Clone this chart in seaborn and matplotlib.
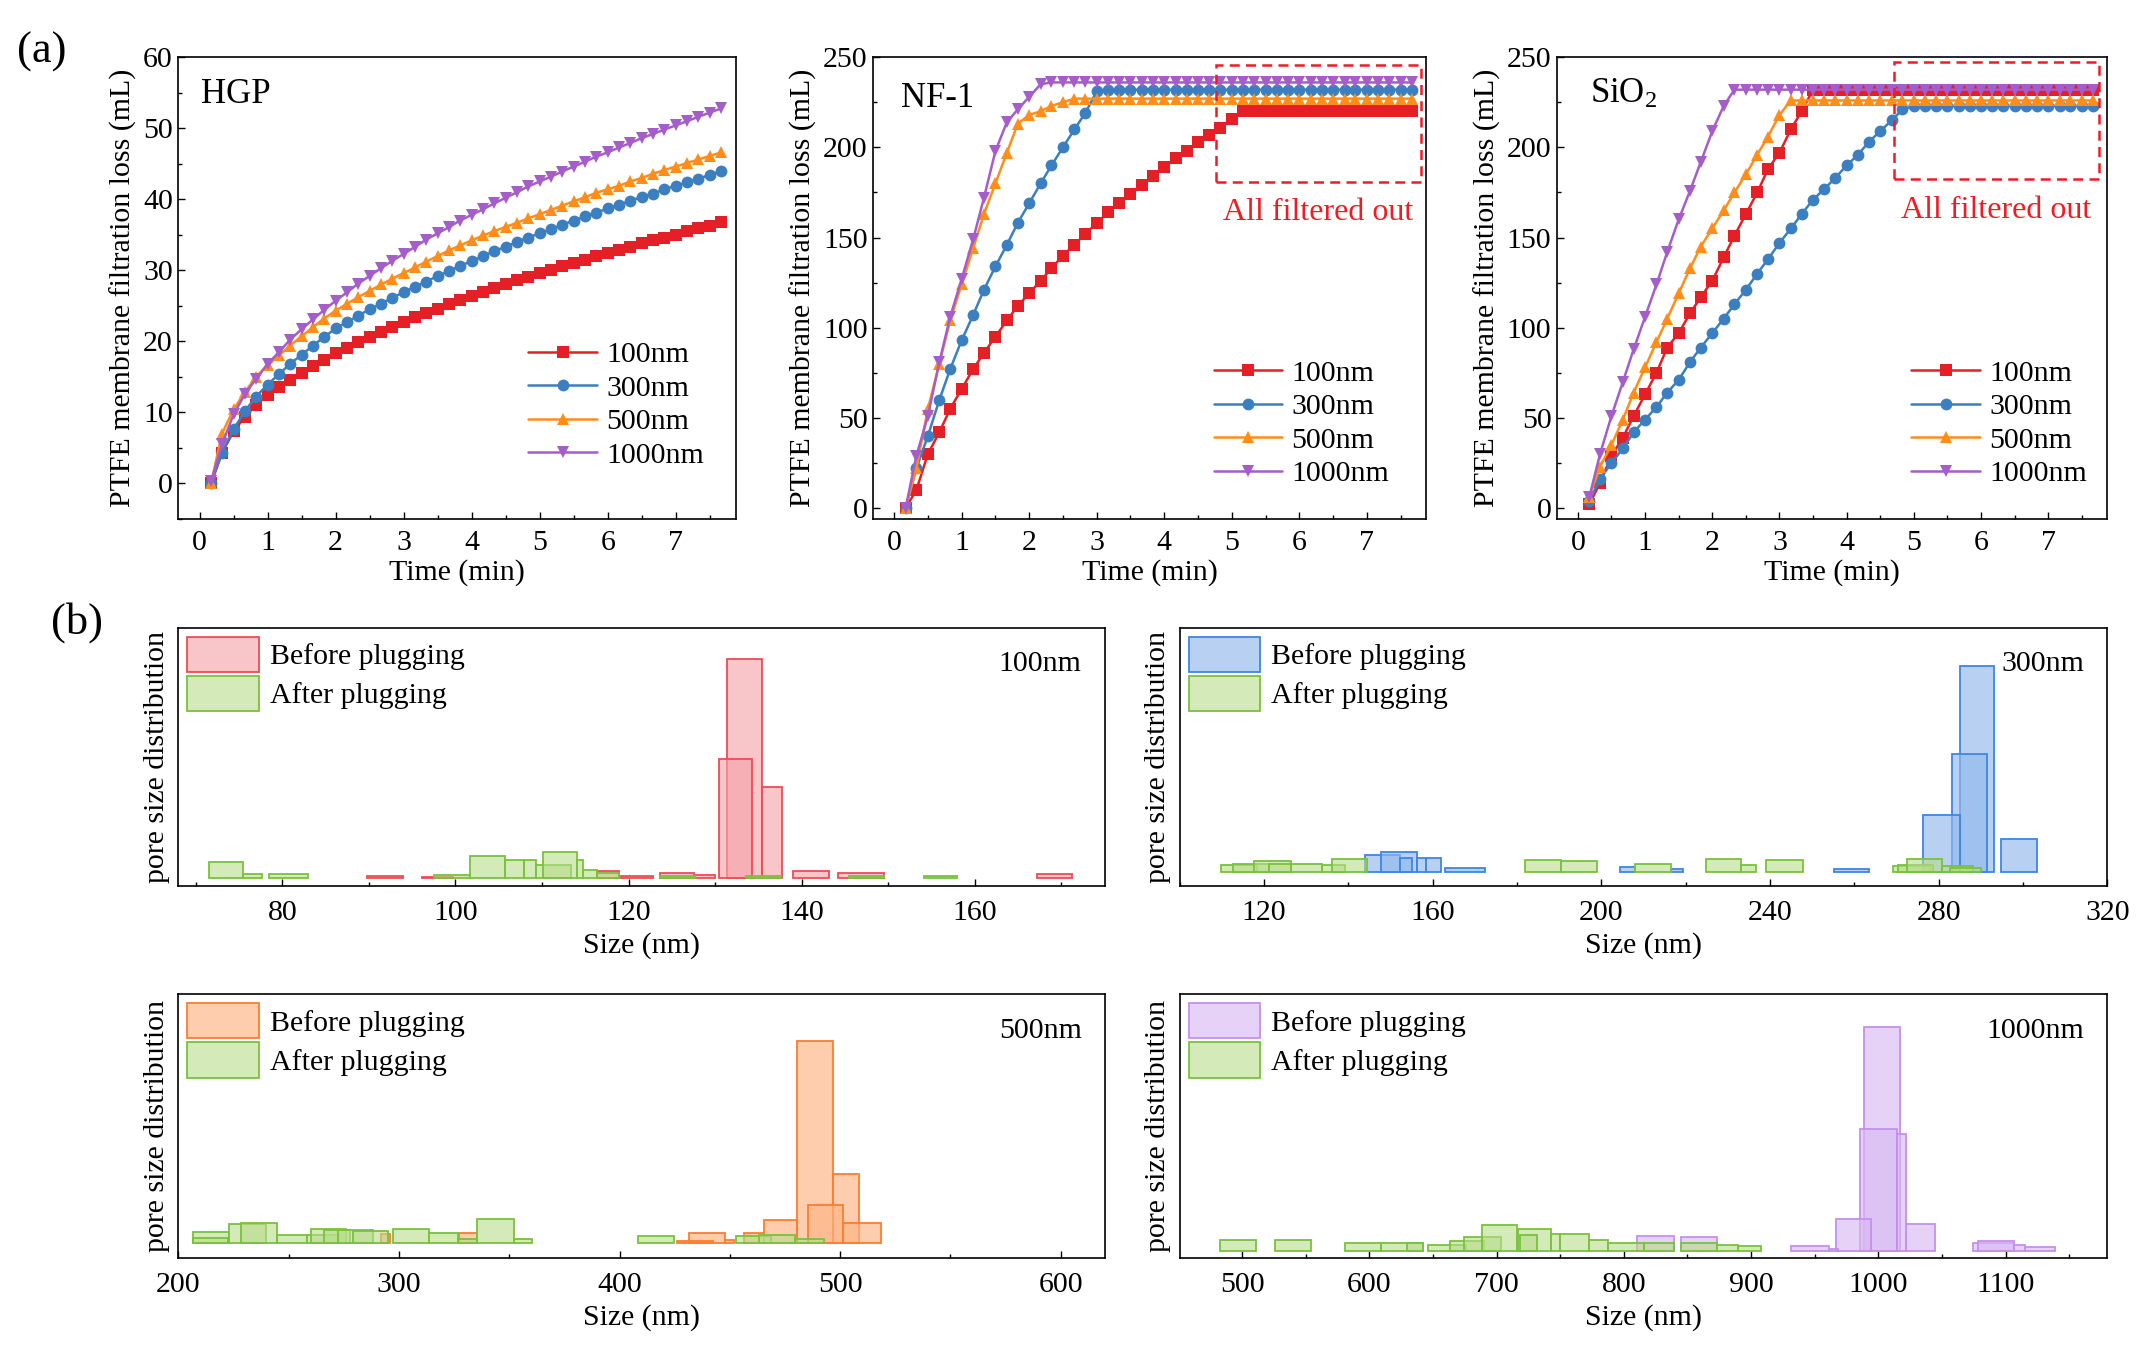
import pandas as pd
import seaborn as sns
import matplotlib.pyplot as plt
from matplotlib.patches import Patch, Rectangle
from matplotlib.ticker import MultipleLocator, NullLocator
from matplotlib.colors import to_rgba

# ---- (a) filtration loss vs time ----
time_min = [0.17, 0.33, 0.50, 0.67, 0.83, 1.00, 1.17, 1.33, 1.50, 1.67, 1.83, 2.00,
            2.17, 2.33, 2.50, 2.67, 2.83, 3.00, 3.17, 3.33, 3.50, 3.67, 3.83, 4.00,
            4.17, 4.33, 4.50, 4.67, 4.83, 5.00, 5.17, 5.33, 5.50, 5.67, 5.83, 6.00,
            6.17, 6.33, 6.50, 6.67, 6.83, 7.00, 7.17, 7.33, 7.50, 7.67]
sizes = ["100nm", "300nm", "500nm", "1000nm"]

hgp_100 = [0, 4.3, 7.3, 9.4, 11.0, 12.4, 13.5, 14.6, 15.6, 16.5, 17.4, 18.3,
           19.1, 19.9, 20.6, 21.3, 22.0, 22.7, 23.4, 24.0, 24.6, 25.2, 25.8, 26.4,
           26.9, 27.5, 28.0, 28.6, 29.1, 29.6, 30.1, 30.6, 31.0, 31.5, 32.0, 32.4,
           32.9, 33.3, 33.8, 34.2, 34.6, 35.0, 35.5, 35.9, 36.3, 36.8]
hgp_300 = [0, 4.3, 7.6, 10.2, 12.2, 13.9, 15.4, 16.8, 18.1, 19.4, 20.6, 21.8,
           22.7, 23.6, 24.5, 25.3, 26.1, 26.9, 27.7, 28.4, 29.2, 29.9, 30.6, 31.3,
           32.0, 32.7, 33.3, 34.0, 34.6, 35.2, 35.8, 36.4, 37.0, 37.6, 38.1, 38.7,
           39.2, 39.8, 40.3, 40.8, 41.4, 41.9, 42.4, 42.9, 43.4, 44.0]
hgp_500 = [0, 7.0, 10.4, 12.9, 15.0, 16.6, 18.0, 19.4, 20.7, 22.0, 23.2, 24.3,
           25.3, 26.2, 27.1, 28.0, 28.8, 29.6, 30.4, 31.2, 32.0, 32.8, 33.5, 34.2,
           34.9, 35.5, 36.1, 36.7, 37.3, 37.9, 38.5, 39.1, 39.7, 40.3, 40.9, 41.4,
           41.9, 42.5, 43.0, 43.6, 44.1, 44.6, 45.1, 45.6, 46.1, 46.6]
hgp_1000 = [0.3, 5.5, 9.7, 12.6, 14.7, 16.8, 18.5, 20.2, 21.7, 23.1, 24.4, 25.7,
            26.9, 28.1, 29.2, 30.3, 31.3, 32.3, 33.3, 34.3, 35.2, 36.1, 37.0, 37.8,
            38.6, 39.4, 40.2, 41.0, 41.8, 42.5, 43.2, 43.9, 44.6, 45.3, 46.0, 46.6,
            47.3, 47.9, 48.6, 49.2, 49.8, 50.4, 51.0, 51.6, 52.2, 52.8]

nf_100 = [0, 10, 30, 42, 55, 66, 77, 86, 95, 104, 112, 119,
          126, 133, 140, 146, 152, 158, 164, 169, 174, 179, 184, 189,
          194, 198, 203, 207, 211, 216, 220, 220, 220, 220, 220, 220,
          220, 220, 220, 220, 220, 220, 220, 220, 220, 220]
nf_300 = [0, 22, 40, 60, 77, 93, 107, 121, 134, 146, 158, 169,
          180, 190, 200, 210, 219, 231, 232, 232, 232, 232, 232, 232,
          232, 232, 232, 232, 232, 232, 232, 232, 232, 232, 232, 232,
          232, 232, 232, 232, 232, 232, 232, 232, 232, 232]
nf_500 = [0, 22, 55, 80, 104, 124, 144, 163, 180, 197, 213, 218,
          220, 223, 225, 227, 227, 227, 227, 227, 227, 227, 227, 227,
          227, 227, 227, 227, 227, 227, 227, 227, 227, 227, 227, 227,
          227, 227, 227, 227, 227, 227, 227, 227, 227, 227]
nf_1000 = [0, 29, 51, 81, 106, 127, 149, 172, 198, 214, 221, 228,
           235, 236, 236, 236, 236, 236, 236, 236, 236, 236, 236, 236,
           236, 236, 236, 236, 236, 236, 236, 236, 236, 236, 236, 236,
           236, 236, 236, 236, 236, 236, 236, 236, 236, 236]

si_100 = [2, 14, 29, 39, 51, 63, 75, 89, 97, 108, 117, 126,
          139, 151, 163, 175, 188, 197, 210, 220, 232, 232, 232, 232,
          232, 232, 232, 232, 232, 232, 232, 232, 232, 232, 232, 232,
          232, 232, 232, 232, 232, 232, 232, 232, 232, 232]
si_300 = [4, 16, 25, 33, 42, 49, 56, 64, 71, 81, 89, 97,
          105, 113, 121, 130, 138, 147, 155, 163, 171, 177, 183, 190,
          196, 203, 209, 215, 221, 223, 223, 223, 223, 223, 223, 223,
          223, 223, 223, 223, 223, 223, 223, 223, 223, 223]
si_500 = [6, 23, 35, 49, 64, 78, 92, 105, 119, 133, 145, 155,
          165, 175, 185, 196, 206, 218, 226, 226, 226, 226, 226, 226,
          226, 226, 226, 226, 226, 226, 226, 226, 226, 226, 226, 226,
          226, 226, 226, 226, 226, 226, 226, 226, 226, 226]
si_1000 = [6, 30, 51, 70, 88, 106, 124, 142, 160, 176, 192, 209,
           223, 232, 232, 232, 232, 232, 232, 232, 232, 232, 232, 232,
           232, 232, 232, 232, 232, 232, 232, 232, 232, 232, 232, 232,
           232, 232, 232, 232, 232, 232, 232, 232, 232, 232]

# ---- (b) pore size distribution bars (left edge, width, relative height) ----
b100_left = [131.4, 130.4, 135.4, 139.0, 144.2, 167.2, 123.6, 127.5, 119.1, 89.8, 96.1, 116.4]
b100_width = [4.0, 3.9, 2.3, 4.1, 5.3, 4.0, 3.9, 2.5, 3.7, 4.1, 3.6, 2.5]
b100_height = [1.0, 0.543, 0.415, 0.033, 0.025, 0.021, 0.025, 0.015, 0.010, 0.010, 0.006, 0.033]
a100_left = [71.5, 75.5, 78.5, 97.5, 101.7, 105.7, 107.9, 109.3, 110.1, 114.0, 114.7, 116.4,
             123.6, 133.6, 145.4, 154.1]
a100_width = [4.0, 2.1, 4.5, 4.2, 4.0, 2.2, 1.4, 4.1, 3.9, 0.7, 1.7, 2.5, 4.1, 4.0, 4.1, 3.8]
a100_height = [0.074, 0.021, 0.021, 0.015, 0.101, 0.085, 0.085, 0.0625, 0.12, 0.085, 0.036, 0.025,
               0.009, 0.009, 0.009, 0.009]

b300_left = [285.0, 283.1, 276.3, 294.7, 255.1, 204.5, 216.6, 162.9, 144.0, 147.8, 152.2, 156.3, 158.5]
b300_width = [8.1, 8.4, 8.7, 8.5, 8.3, 3.5, 2.7, 9.4, 8.2, 8.5, 3.0, 2.2, 3.4]
b300_height = [1.0, 0.571, 0.275, 0.159, 0.016, 0.024, 0.016, 0.02, 0.083, 0.095, 0.067, 0.067, 0.067]
a300_left = [109.8, 112.6, 117.6, 121.1, 126.3, 133.7, 136.0, 182.0, 190.4, 208.0, 224.9, 233.1,
             239.1, 269.2, 270.3, 272.4, 280.7, 282.6]
a300_width = [8.6, 8.5, 8.7, 5.2, 7.4, 5.6, 8.3, 8.4, 8.6, 8.6, 8.2, 3.6, 8.6, 8.7, 8.4, 8.3, 7.4, 7.4]
a300_height = [0.035, 0.040, 0.052, 0.037, 0.040, 0.035, 0.063, 0.059, 0.051, 0.040, 0.063, 0.035,
               0.059, 0.027, 0.032, 0.063, 0.027, 0.019]

b500_left = [480.5, 496.7, 485.3, 501.5, 465.6, 456.2, 431.6, 426.1, 447.8, 327.3, 291.7]
b500_width = [16.2, 12.0, 16.2, 16.9, 14.9, 9.4, 16.2, 16.2, 4.2, 8.1, 4.2]
b500_height = [1.0, 0.34, 0.187, 0.098, 0.113, 0.046, 0.046, 0.007, 0.013, 0.046, 0.04]
a500_left = [206.5, 206.5, 223.0, 228.5, 244.7, 258.3, 260.0, 266.0, 272.2, 279.0, 297.2, 313.7,
             326.6, 335.4, 352.2, 408.3, 452.6, 463.3, 479.5]
a500_width = [16.5, 16.0, 16.8, 16.2, 13.6, 14.6, 16.0, 12.0, 16.0, 15.9, 16.5, 12.9,
              8.8, 16.8, 8.1, 16.2, 16.2, 16.2, 13.0]
a500_height = [0.05, 0.025, 0.091, 0.096, 0.038, 0.036, 0.066, 0.063, 0.063, 0.058, 0.066, 0.045,
               0.02, 0.118, 0.02, 0.033, 0.033, 0.036, 0.02]

b1000_left = [988.8, 985.7, 1014.3, 966.5, 1021.6, 931.7, 961.3, 1074.0, 1078.0, 1106.8, 1115.6,
              810.6, 844.9]
b1000_width = [28.6, 28.6, 7.3, 27.5, 22.8, 29.6, 6.8, 32.8, 28.8, 8.8, 23.4, 28.6, 28.1]
b1000_height = [1.0, 0.543, 0.521, 0.144, 0.119, 0.022, 0.010, 0.037, 0.045, 0.027, 0.018,
                0.067, 0.0625]
a1000_left = [482.3, 526.0, 581.0, 609.1, 630.0, 646.0, 663.6, 674.5, 688.6, 717.1, 718.7, 743.1,
              749.9, 772.7, 787.3, 815.8, 844.9, 873.0, 889.6]
a1000_width = [28.6, 28.5, 28.1, 32.7, 12.0, 29.6, 26.5, 28.6, 27.5, 26.0, 13.0, 6.8,
               22.8, 14.6, 28.5, 23.4, 28.1, 16.6, 18.2]
a1000_height = [0.049, 0.049, 0.037, 0.037, 0.037, 0.027, 0.042, 0.0625, 0.115, 0.097, 0.07, 0.077,
                0.077, 0.048, 0.033, 0.033, 0.037, 0.027, 0.022]

# ---- style ----
sns.set_theme(style="ticks")
plt.rcParams['font.family'] = ['Liberation Serif', 'DejaVu Serif']
plt.rcParams['mathtext.fontset'] = 'custom'
plt.rcParams['mathtext.rm'] = 'Liberation Serif'
plt.rcParams['mathtext.it'] = 'Liberation Serif:italic'
plt.rcParams.update({
    'xtick.direction': 'in', 'ytick.direction': 'in',
    'xtick.major.size': 5, 'ytick.major.size': 5,
    'xtick.minor.size': 3, 'ytick.minor.size': 3,
    'xtick.major.width': 1.0, 'ytick.major.width': 1.0,
    'xtick.major.pad': 8, 'ytick.major.pad': 4,
    'axes.linewidth': 1.2, 'axes.edgecolor': 'black',
    'xtick.color': 'black', 'ytick.color': 'black',
    'xtick.labelsize': 21.5, 'ytick.labelsize': 21.5,
    'axes.labelsize': 21.5, 'text.color': 'black', 'axes.labelcolor': 'black',
})
FS = 21.5

line_colors = ["#e41f26", "#3b7fc0", "#ff8d1a", "#a45dc9"]
line_markers = ["s", "o", "^", "v"]

W, H = 1568, 998


def box(x0, x1, y0, y1):
    return [x0 / W, 1 - y1 / H, (x1 - x0) / W, (y1 - y0) / H]


fig = plt.figure(figsize=(21.36, 13.59), dpi=100)

top_panels = [
    ("HGP", [hgp_100, hgp_300, hgp_500, hgp_1000], box(131, 540, 42, 381), (-5, 60), 10, 5,
     (0.975, 0.07), (0.04, 0.92)),
    ("NF-1", [nf_100, nf_300, nf_500, nf_1000], box(641, 1047, 42, 381), (-6, 250), 50, 25,
     (0.965, 0.03), (0.05, 0.91)),
    ("SiO$_2$", [si_100, si_300, si_500, si_1000], box(1143, 1547, 42, 381), (-6, 250), 50, 25,
     (0.995, 0.03), (0.06, 0.92)),
]
filtered_boxes = {
    "NF-1": ((4.77, 181), 3.03, 64.5, (6.28, 164)),
    "SiO$_2$": ((4.71, 182.5), 3.04, 65, (6.22, 165)),
}

for name, series, pos, ylim, ymaj, ymin, leg_anchor, title_pos in top_panels:
    ax = fig.add_axes(pos)
    for vals, lab, c, m in zip(series, sizes, line_colors, line_markers):
        sns.lineplot(x=time_min, y=vals, ax=ax, color=c, marker=m, markersize=8.5,
                     markeredgewidth=0, linewidth=1.8, label=lab)
    ax.set_xlim(-0.31, 7.88)
    ax.set_ylim(*ylim)
    ax.xaxis.set_major_locator(MultipleLocator(1))
    ax.xaxis.set_minor_locator(MultipleLocator(0.5))
    ax.yaxis.set_major_locator(MultipleLocator(ymaj))
    ax.yaxis.set_minor_locator(MultipleLocator(ymin))
    ax.set_xlabel("Time (min)", labelpad=2)
    ax.set_ylabel("PTFE membrane filtration loss (mL)", labelpad=4)
    ax.text(title_pos[0], title_pos[1], name, transform=ax.transAxes, fontsize=25,
            ha="left", va="center")
    ax.legend(loc="lower right", bbox_to_anchor=leg_anchor, frameon=False, fontsize=FS,
              handlelength=2.3, labelspacing=0.22, handletextpad=0.3, borderaxespad=0.2)
    if name in filtered_boxes:
        (x0, y0), w, h, tpos = filtered_boxes[name]
        ax.add_patch(Rectangle((x0, y0), w, h, fill=False, edgecolor="#ee1c25",
                               linestyle=(0, (4, 2.5)), linewidth=1.8, clip_on=False, zorder=5))
        ax.text(tpos[0], tpos[1], "All filtered out", color="#ee1c25", fontsize=23,
                ha="center", va="center")

# ---- bottom histograms ----
green_edge, green_face = "#79c23c", "#b8dc8a"
bottom_panels = [
    ("100nm", box(131, 811, 461, 651), (68, 175), (-0.037, 1.14), 20, 10,
     (b100_left, b100_width, b100_height), (a100_left, a100_width, a100_height),
     "#f04b55", "#f5a6ab"),
    ("300nm", box(866, 1547, 461, 651), (100, 320), (-0.071, 1.187), 40, 20,
     (b300_left, b300_width, b300_height), (a300_left, a300_width, a300_height),
     "#3d86e6", "#92b9ec"),
    ("500nm", box(131, 811, 730, 924), (200, 620), (-0.078, 1.235), 100, 50,
     (b500_left, b500_width, b500_height), (a500_left, a500_width, a500_height),
     "#ff7d2e", "#fdb383"),
    ("1000nm", box(866, 1547, 730, 924), (451, 1180), (-0.033, 1.146), 100, 50,
     (b1000_left, b1000_width, b1000_height), (a1000_left, a1000_width, a1000_height),
     "#c490ec", "#d9baf3"),
]

for name, pos, xlim, ylim, xmaj, xmin, before, after, edge, face in bottom_panels:
    ax = fig.add_axes(pos)
    ax.bar(before[0], before[2], width=before[1], align="edge",
           facecolor=to_rgba(face, 0.65), edgecolor=edge, linewidth=1.3)
    ax.bar(after[0], after[2], width=after[1], align="edge",
           facecolor=to_rgba(green_face, 0.6), edgecolor=green_edge, linewidth=1.3)
    ax.set_xlim(*xlim)
    ax.set_ylim(*ylim)
    ax.xaxis.set_major_locator(MultipleLocator(xmaj))
    ax.xaxis.set_minor_locator(MultipleLocator(xmin))
    ax.yaxis.set_major_locator(NullLocator())
    ax.tick_params(axis="x", pad=10)
    ax.set_xlabel("Size (nm)", labelpad=4)
    ax.set_ylabel("pore size distribution", labelpad=6)
    ax.text(0.975, 0.86, name, transform=ax.transAxes, fontsize=FS, ha="right", va="center")
    handles = [Patch(facecolor=to_rgba(face, 0.65), edgecolor=edge, linewidth=1.3,
                     label="Before plugging"),
               Patch(facecolor=to_rgba(green_face, 0.6), edgecolor=green_edge, linewidth=1.3,
                     label="After plugging")]
    ax.legend(handles=handles, loc="upper left", frameon=False, fontsize=FS,
              handlelength=2.4, handleheight=1.45, labelspacing=0.12, handletextpad=0.35,
              borderaxespad=0.05, borderpad=0.25)

fig.text(0.008, 0.962, "(a)", fontsize=32, ha="left", va="center")
fig.text(0.024, 0.542, "(b)", fontsize=32, ha="left", va="center")

fig.savefig("out.png", dpi=100)
